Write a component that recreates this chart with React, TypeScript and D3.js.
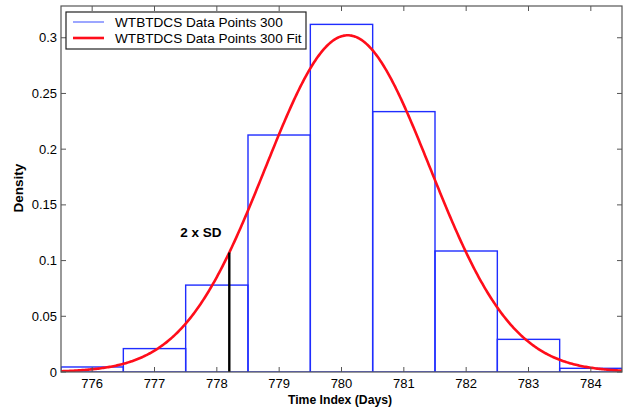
import React from 'react';
import * as d3 from 'd3';

// histogram bin centres (days) and densities
const binCenters = [776, 777, 778, 779, 780, 781, 782, 783, 784];
const densities = [0.0045, 0.021, 0.078, 0.2127, 0.312, 0.2337, 0.1086, 0.0293, 0.0033];
const binWidth = 1;

// normal fit parameters
const fitMean = 780.1;
const fitSd = 1.32;

// 2 x SD marker
const sdMarkX = 778.2;

const xTicks = [776, 777, 778, 779, 780, 781, 782, 783, 784];
const yTicks = [0, 0.05, 0.1, 0.15, 0.2, 0.25, 0.3];

const legendLabels = ['WTBTDCS Data Points 300', 'WTBTDCS Data Points 300 Fit'];

const width = 624;
const height = 412;
const margin = { top: 6, right: 2, bottom: 40, left: 61 };
const font = '"Liberation Sans", Arial, Helvetica, sans-serif';

const pdf = (x: number) =>
  Math.exp(-0.5 * ((x - fitMean) / fitSd) ** 2) / (fitSd * Math.sqrt(2 * Math.PI));

export default function App() {
  const x = d3.scaleLinear().domain([775.5, 784.5]).range([margin.left, width - margin.right]);
  const y = d3.scaleLinear().domain([0, 0.3285]).range([height - margin.bottom, margin.top]);

  const x0 = margin.left, x1 = width - margin.right;
  const y0 = height - margin.bottom, y1 = margin.top;

  const curveXs = d3.range(775.5, 784.5001, 0.02);
  const line = d3.line<number>().x(d => x(d)).y(d => y(pdf(d)));

  const axisColor = '#555';
  const tickLen = 5;

  return (
    <svg width={width} height={height} style={{ position: 'absolute', left: 0, top: 0 }} fontFamily={font}>
      <rect x={0} y={0} width={width} height={height} fill="#fff" />
      <defs>
        <clipPath id="plot">
          <rect x={x0} y={y1} width={x1 - x0} height={y0 - y1} />
        </clipPath>
      </defs>

      <g clipPath="url(#plot)">
        {binCenters.map((c, i) => (
          <rect
            key={c}
            x={x(c - binWidth / 2)}
            y={y(densities[i])}
            width={x(c + binWidth / 2) - x(c - binWidth / 2)}
            height={y(0) - y(densities[i])}
            fill="none"
            stroke="#1f2dff"
            strokeWidth={1.4}
          />
        ))}
        <path d={line(curveXs) || ''} fill="none" stroke="#ff0d1a" strokeWidth={2.6} />
        <line x1={x(sdMarkX)} x2={x(sdMarkX)} y1={y(0)} y2={y(pdf(sdMarkX))} stroke="#000" strokeWidth={2.4} />
      </g>

      <text x={x(sdMarkX) - 49} y={y(pdf(sdMarkX)) - 15} fontSize={13.5} fontWeight="bold">2 x SD</text>

      {/* frame */}
      <rect x={x0} y={y1} width={x1 - x0} height={y0 - y1} fill="none" stroke={axisColor} strokeWidth={1.2} />

      {xTicks.map(t => (
        <g key={t}>
          <line x1={x(t)} x2={x(t)} y1={y0} y2={y0 - tickLen} stroke={axisColor} />
          <line x1={x(t)} x2={x(t)} y1={y1} y2={y1 + tickLen} stroke={axisColor} />
          <text x={x(t)} y={y0 + 16} textAnchor="middle" fontSize={13}>{t}</text>
        </g>
      ))}
      {yTicks.map(t => (
        <g key={t}>
          <line x1={x0} x2={x0 + tickLen} y1={y(t)} y2={y(t)} stroke={axisColor} />
          <line x1={x1} x2={x1 - tickLen} y1={y(t)} y2={y(t)} stroke={axisColor} />
          <text x={x0 - 4} y={y(t) + 4.5} textAnchor="end" fontSize={13}>{t}</text>
        </g>
      ))}

      <text x={340} y={404} textAnchor="middle" fontSize={12.2} fontWeight="bold">Time Index (Days)</text>
      <text transform={`translate(23,188) rotate(-90)`} textAnchor="middle" fontSize={13.5} fontWeight="bold">Density</text>

      {/* legend */}
      <g>
        <rect x={66} y={12} width={240} height={37} fill="#fff" stroke="#222" strokeWidth={1.2} />
        {legendLabels.map((l, i) => (
          <g key={l}>
            <line x1={73} x2={104} y1={22 + i * 16} y2={22 + i * 16}
              stroke={i === 0 ? '#5a6bff' : '#ff0d1a'} strokeWidth={i === 0 ? 1.2 : 2.6} />
            <text x={115} y={27 + i * 16} fontSize={13.6}>{l}</text>
          </g>
        ))}
      </g>
    </svg>
  );
}
